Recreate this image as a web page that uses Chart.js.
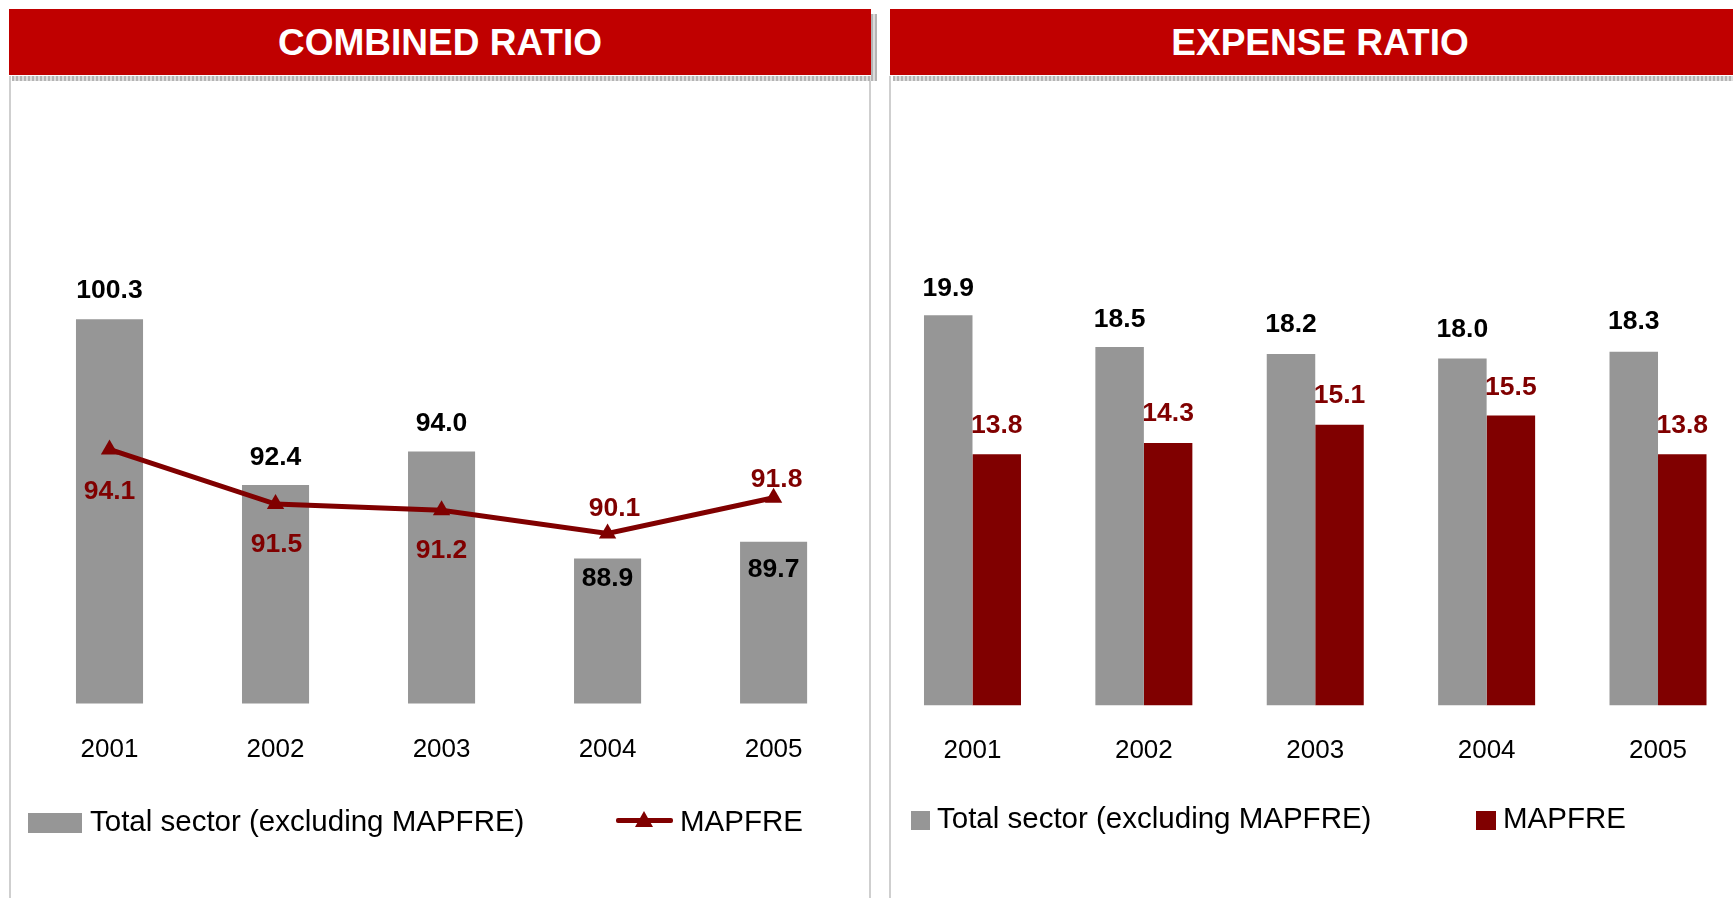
<!DOCTYPE html>
<html>
<head>
<meta charset="utf-8">
<script src="https://cdn.jsdelivr.net/npm/chart.js@4/dist/chart.umd.min.js"></script>
<style>
html, body { margin: 0; padding: 0; width: 1733px; height: 898px; overflow: hidden; background: #fff;
  font-family: "Liberation Sans", Arial, sans-serif; }
.abs { position: absolute; }
.hdr { position: absolute; top: 9px; height: 66px; background: #c00000; color: #fff; font-weight: bold;
  font-size: 37px; display: flex; align-items: center; justify-content: center; padding-top: 2px; box-sizing: border-box; }
.shade { position: absolute; background: repeating-linear-gradient(90deg, #b4b4b4 0 2px, #dcdcdc 2px 4px); }
.vline { position: absolute; width: 2px; background: #cfcfcf; }
.leg { position: absolute; font-size: 29.5px; line-height: 29.5px; color: #000; white-space: nowrap; }
canvas { position: absolute; }
</style>
</head>
<body>

<div class="hdr" style="left:9px;width:862px;">COMBINED RATIO</div>
<div class="hdr" style="left:890px;width:860px;">EXPENSE RATIO</div>
<div class="shade" style="left:12px;top:76px;width:865px;height:5px;"></div>
<div class="shade" style="left:871px;top:14px;width:6px;height:67px;"></div>
<div class="shade" style="left:893px;top:76px;width:860px;height:5px;"></div>
<div class="vline" style="left:9px;top:76px;height:822px;"></div>
<div class="vline" style="left:869px;top:81px;height:817px;"></div>
<div class="vline" style="left:889px;top:76px;height:822px;"></div>

<canvas id="combinedChart" width="870" height="708" style="left:0px;top:100px;"></canvas>
<canvas id="expenseChart" width="870" height="707" style="left:880px;top:100px;"></canvas>

<!-- legends -->
<div class="abs" style="left:28px;top:813px;width:54px;height:20px;background:#969696;"></div>
<div class="leg" style="left:90px;top:806px;">Total sector (excluding MAPFRE)</div>
<div class="abs" style="left:616px;top:818px;width:57px;height:5px;background:#800000;border-radius:2px;"></div>
<div class="abs" style="left:635px;top:811px;width:0;height:0;border-left:9.5px solid transparent;border-right:9.5px solid transparent;border-bottom:16px solid #800000;"></div>
<div class="leg" style="left:680px;top:806px;">MAPFRE</div>

<div class="abs" style="left:911px;top:811px;width:19px;height:19px;background:#969696;"></div>
<div class="leg" style="left:937px;top:803px;">Total sector (excluding MAPFRE)</div>
<div class="abs" style="left:1476px;top:811px;width:20px;height:19px;background:#800000;"></div>
<div class="leg" style="left:1503px;top:803px;">MAPFRE</div>

<script>
// chart data
var years = ["2001", "2002", "2003", "2004", "2005"];
var combinedSector = [100.3, 92.4, 94.0, 88.9, 89.7];
var combinedMapfre = [94.1, 91.5, 91.2, 90.1, 91.8];
var expenseSector = [19.9, 18.5, 18.2, 18.0, 18.3];
var expenseMapfre = [13.8, 14.3, 15.1, 15.5, 13.8];

var FONT = '"Liberation Sans", Arial, sans-serif';
var GREY = '#969696';
var DARKRED = '#800000';

// draws the value next to each bar / point (no datalabels plugin available)
var valueLabels = {
    id: 'valueLabels',
    afterDatasetsDraw: function (chart, args, opts) {
        var ctx = chart.ctx;
        var size = opts.size;
        chart.data.datasets.forEach(function (ds, i) {
            var meta = chart.getDatasetMeta(i);
            ctx.save();
            ctx.font = 'bold ' + size + 'px ' + FONT;
            ctx.fillStyle = opts.colors[i];
            ctx.textAlign = 'center';
            ctx.textBaseline = 'alphabetic';
            meta.data.forEach(function (el, j) {
                var dx = opts.dx ? opts.dx[i][j] : 0;
                // offsets are for the middle of the digits
                ctx.fillText(ds.data[j].toFixed(1), el.x + dx, el.y + opts.dy[i][j] + size * 0.358);
            });
            ctx.restore();
        });
    }
};

function xAxis(pad) {
    return {
        grid: { display: false, drawTicks: false },
        border: { display: false },
        ticks: { color: '#000', padding: pad, font: { family: FONT, size: 26 } }
    };
}

var ctx1 = document.getElementById('combinedChart').getContext('2d');
var chart1 = new Chart(ctx1, {
    type: 'bar',
    data: {
        labels: years,
        datasets: [{
            type: 'line',
            label: 'MAPFRE',
            data: combinedMapfre,
            borderColor: DARKRED,
            backgroundColor: DARKRED,
            borderWidth: 5,
            pointStyle: 'triangle',
            pointRadius: 10,
            pointBorderWidth: 0,
            order: 0
        }, {
            label: 'Total sector (excluding MAPFRE)',
            data: combinedSector,
            backgroundColor: GREY,
            categoryPercentage: 1,
            barPercentage: 0.404,
            order: 1
        }]
    },
    options: {
        responsive: false,
        animation: false,
        // tick padding is counted twice in the axis height
        layout: { autoPadding: false, padding: { left: 26.5, right: 13.4, top: 0, bottom: 12.3 } },
        scales: {
            x: xAxis(30.5),
            y: { display: false, min: 82, max: 110.74 }
        },
        plugins: {
            legend: { display: false },
            tooltip: { enabled: false },
            valueLabels: {
                size: 26.5,
                colors: [DARKRED, '#000'],
                dy: [[40, 38, 38.5, -26.5, -20.5], [-30.5, -30, -30, 17.5, 26]],
                dx: [[0, 1, 0, 7, 3], [0, 0, 0, 0, 0]]
            }
        }
    },
    plugins: [valueLabels]
});

var ctx2 = document.getElementById('expenseChart').getContext('2d');
var chart2 = new Chart(ctx2, {
    type: 'bar',
    data: {
        labels: years,
        datasets: [{
            label: 'Total sector (excluding MAPFRE)',
            data: expenseSector,
            backgroundColor: GREY,
            categoryPercentage: 0.566,
            barPercentage: 1
        }, {
            label: 'MAPFRE',
            data: expenseMapfre,
            backgroundColor: DARKRED,
            categoryPercentage: 0.566,
            barPercentage: 1
        }]
    },
    options: {
        responsive: false,
        animation: false,
        layout: { autoPadding: false, padding: { left: 6.8, right: 6.3, top: 0, bottom: 11.1 } },
        scales: {
            x: xAxis(29.7),
            y: { display: false, min: 2.8, max: 29.33 }
        },
        plugins: {
            legend: { display: false },
            tooltip: { enabled: false },
            valueLabels: {
                size: 26.5,
                colors: ['#000', DARKRED],
                dy: [[-29, -30, -31, -31, -32], [-31, -31, -31, -30, -31]]
            }
        }
    },
    plugins: [valueLabels]
});
</script>
</body>
</html>
